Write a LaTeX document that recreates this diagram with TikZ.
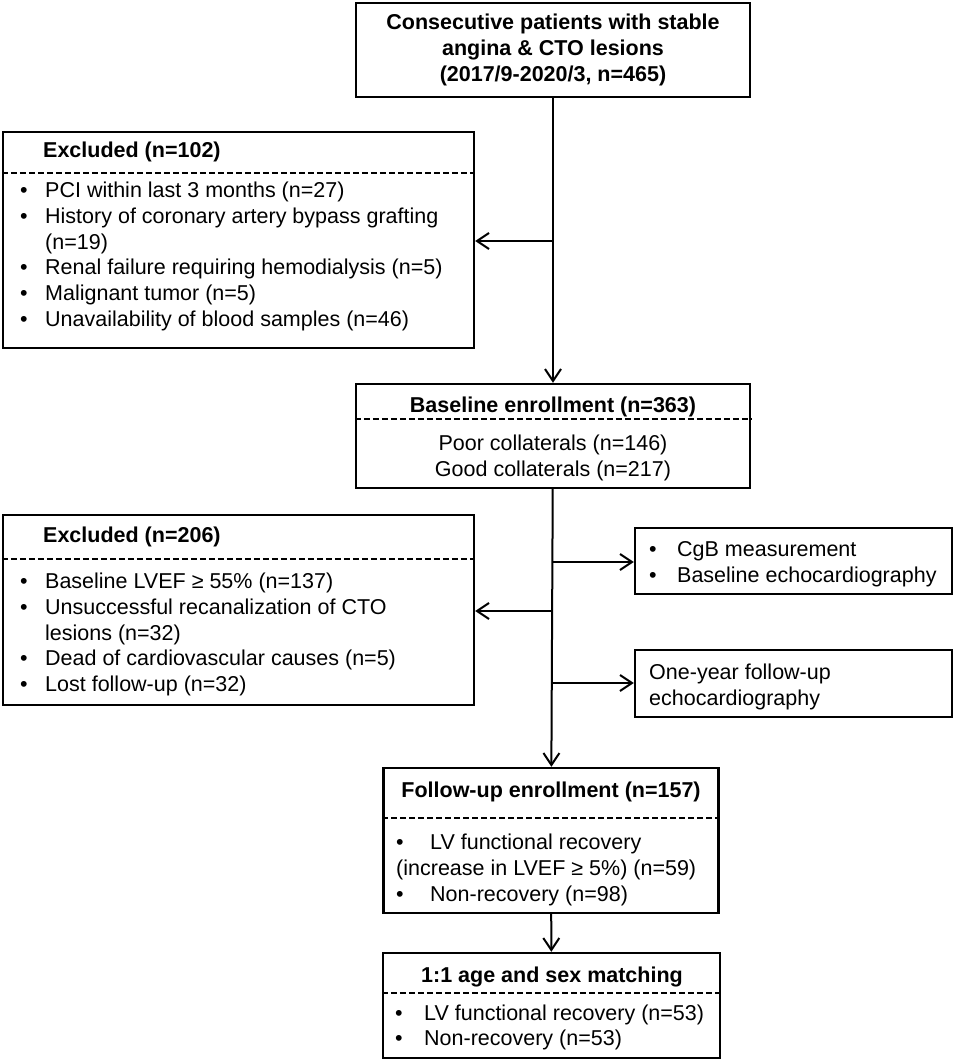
\documentclass[tikz,border=0pt]{standalone}
\usepackage{fontspec}
\setmainfont{Liberation Sans}
\usetikzlibrary{arrows.meta, positioning}

\tikzset{
  box/.style={draw, rectangle, line width=2.4pt, inner sep=0pt},
  arr/.style={line width=2pt, -{Straight Barb[length=12pt,width=16pt]}},
  divline/.style={line width=1.6pt, dash pattern=on 6pt off 3pt},
  txt/.style={inner sep=0pt, anchor=base west, font=\fontsize{21.5}{25.8}\selectfont},
  hdr/.style={txt, font=\fontsize{21.5}{25.8}\selectfont\bfseries},
}
\newcommand{\bul}[1]{\makebox[#1][l]{\textbullet}}

\begin{document}
\begin{tikzpicture}[x=1pt,y=-1pt]
  \useasboundingbox (0,0) rectangle (957,1063);

  % 方框
  \node[box, minimum width=394pt, minimum height=94pt]  (top)   at (553,50)      {};
  \node[box, minimum width=471pt, minimum height=216pt] (excl1) at (238.5,240)   {};
  \node[box, minimum width=394pt, minimum height=104pt] (base)  at (553,436)     {};
  \node[box, minimum width=471pt, minimum height=190pt] (excl2) at (238.5,610)   {};
  \node[box, minimum width=317pt, minimum height=66pt]  (meas)  at (793.5,561)   {};
  \node[box, minimum width=317pt, minimum height=67pt]  (fu)    at (793.5,683.5) {};
  \node[box, minimum width=335pt, minimum height=145pt] (fuenr) at (551,840.5)   {};
  \node[box, minimum width=337pt, minimum height=105pt] (match) at (551.5,1005.5) {};

  % 虛線分隔
  \foreach \b/\y in {excl1/173, base/419, excl2/559, fuenr/818, match/993}
    \draw[divline] (\b.west |- 0,\y) -- (\b.east |- 0,\y);

  % 文字
  \node[hdr, anchor=base] (topT) at (553,29.5)
    {\begin{tabular}[t]{@{}c@{}}Consecutive patients with stable\\ angina \& CTO lesions\\ (2017/9-2020/3, n=465)\end{tabular}};

  \node[hdr] (excl1T) at (43,157.5) {Excluded (n=102)};
  \node[txt] (excl1L) at (20,197.5)
    {\begin{tabular}[t]{@{}l@{}}
      \bul{25pt}PCI within last 3 months (n=27)\\
      \bul{25pt}History of coronary artery bypass grafting\\
      \hspace*{25pt}(n=19)\\
      \bul{25pt}Renal failure requiring hemodialysis (n=5)\\
      \bul{25pt}Malignant tumor (n=5)\\
      \bul{25pt}Unavailability of blood samples (n=46)
    \end{tabular}};

  \node[hdr, anchor=base] (baseT) at (553,412.5) {Baseline enrollment (n=363)};
  \node[txt, anchor=base] (baseL) at (553,450.5)
    {\begin{tabular}[t]{@{}c@{}}Poor collaterals (n=146)\\ Good collaterals (n=217)\end{tabular}};

  \node[hdr] (excl2T) at (43,542.5) {Excluded (n=206)};
  \node[txt] (excl2L) at (20,588.5)
    {\begin{tabular}[t]{@{}l@{}}
      \bul{25pt}Baseline LVEF ≥ 55\% (n=137)\\
      \bul{25pt}Unsuccessful recanalization of CTO\\
      \hspace*{25pt}lesions (n=32)\\
      \bul{25pt}Dead of cardiovascular causes (n=5)\\
      \bul{25pt}Lost follow-up (n=32)
    \end{tabular}};

  \node[txt] (measL) at (649,556.5)
    {\begin{tabular}[t]{@{}l@{}}\bul{28pt}CgB measurement\\ \bul{28pt}Baseline echocardiography\end{tabular}};
  \node[txt] (fuL) at (649,679.5)
    {\begin{tabular}[t]{@{}l@{}}One-year follow-up\\ echocardiography\end{tabular}};

  \node[hdr, anchor=base] (fuenrT) at (551,797.5) {Follow-up enrollment (n=157)};
  \node[txt] (fuenrL) at (396,849.5)
    {\begin{tabular}[t]{@{}l@{}}
      \bul{34pt}LV functional recovery\\
      (increase in LVEF ≥ 5\%) (n=59)\\
      \bul{34pt}Non-recovery (n=98)
    \end{tabular}};

  \node[hdr, anchor=base] (matchT) at (552,982.5) {1:1 age and sex matching};
  \node[txt, font=\fontsize{21.5}{25}\selectfont] (matchL) at (395,1020.5)
    {\begin{tabular}[t]{@{}l@{}}\bul{29pt}LV functional recovery (n=53)\\ \bul{29pt}Non-recovery (n=53)\end{tabular}};

  % 箭頭
  \coordinate (j1) at (553,241);
  \coordinate (j2) at (552.5,562);
  \coordinate (j3) at (552.5,611);
  \coordinate (j4) at (552.5,683);
  \draw[arr] (top) -- (base);
  \draw[arr] (j1) -- (j1 -| excl1.east);
  \draw[arr] (base) -- (fuenr);
  \draw[arr] (j2) -- (j2 -| meas.west);
  \draw[arr] (j3) -- (j3 -| excl2.east);
  \draw[arr] (j4) -- (j4 -| fu.west);
  \draw[arr] (fuenr) -- (match);
\end{tikzpicture}
\end{document}
